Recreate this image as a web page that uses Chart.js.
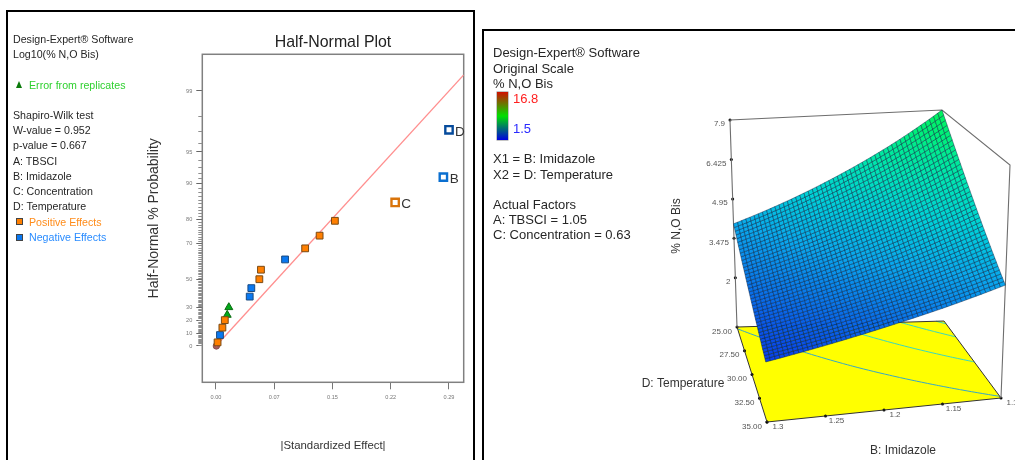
<!DOCTYPE html>
<html><head><meta charset="utf-8">
<script src="https://cdn.jsdelivr.net/npm/chart.js@4"></script>
<style>
html,body{margin:0;padding:0;background:#fff;width:1015px;height:460px;overflow:hidden;font-family:"Liberation Sans",Arial,sans-serif}
canvas{position:absolute}
.t{position:absolute;white-space:nowrap;line-height:14px;height:14px;color:#262626}
.l{font-size:11.4px;transform:scaleX(.935);transform-origin:0 50%}.r{font-size:13px}
.f{position:absolute;background:#000}
.sq{position:absolute;width:5px;height:5px;border:1px solid #444}
</style></head><body>
<div class="f" style="left:6px;top:10px;width:469px;height:2px"></div>
<div class="f" style="left:6px;top:10px;width:2px;height:450px"></div>
<div class="f" style="left:473px;top:10px;width:2px;height:450px"></div>
<div class="f" style="left:482px;top:29px;width:533px;height:2px"></div>
<div class="f" style="left:482px;top:29px;width:2px;height:431px"></div>
<canvas id="half" width="475" height="460" style="left:0;top:0;width:475px;height:460px"></canvas>
<canvas id="surf" width="532" height="460" style="left:483px;top:0;width:532px;height:460px"></canvas>
<div id="notes"></div>
<div style="position:absolute;left:497px;top:92px;width:11px;height:48px;background:linear-gradient(#d01000,#00e000 50%,#0000e0);box-shadow:0 0 0 .5px #888"></div>
<div style="position:absolute;left:16px;top:81px;width:0;height:0;border-left:3.5px solid transparent;border-right:3.5px solid transparent;border-bottom:7px solid #0a7a0a"></div>
<div class="sq" style="left:16px;top:218px;background:#ff7f00"></div>
<div class="sq" style="left:16px;top:234px;background:#0a78f0"></div>
<script>
/* ---------- left: half-normal plot ---------- */
const positiveEffect=[0.002,0.008,0.011,0.054,0.056,0.111,0.129,0.148];
const positiveProb=[2.9,14.7,20.6,50,55.9,67.6,73.5,79.4];
const negativeEffect=[0.005,0.042,0.044,0.086];
const negativeProb=[8.8,38.2,44.1,61.8];
const errorEffect=[0.014,0.016];
const errorProb=[24.6,30.4];
const originEffect=[0.0005];
const originProb=[0];
const termNames=["C","B","D"];
const termEffect=[0.223,0.283,0.290];
const termProb=[85.3,91.2,97.1];
const fitEffect=[0,0.3083];
const fitProb=[0,99.38];
const probTicks=[0,10,20,30,50,70,80,90,95,99];
const probMinor=[1,2,3,4,5,6,7,8,9,11,12,13,14,15,16,17,18,19,21,22,23,24,25,26,27,28,29,31,32,33,34,35,36,37,38,39,40,41,42,43,44,45,46,47,48,49,51,52,53,54,55,56,57,58,59,60,61,62,63,64,65,66,67,68,69,71,72,73,74,75,76,77,78,79,81,82,83,84,85,86,87,88,89,91,92,93,94,96,97,98];
const effectTicks=[0,0.0725,0.145,0.2175,0.29];
const effectLabels=["0.00","0.07","0.15","0.22","0.29"];

function erf(x){const t=1/(1+0.47047*x);
  return 1-(0.3480242*t-0.0958798*t*t+0.7478556*t*t*t)*Math.exp(-x*x);}
function halfNormalZ(p){let lo=0,hi=5;const q=p/100;
  if(q<=0)return 0;
  for(let i=0;i<60;i++){const m=(lo+hi)/2;if(erf(m/Math.SQRT2)<q)lo=m;else hi=m;}
  return (lo+hi)/2;}
const pts=(xs,ps)=>xs.map((x,i)=>({x,y:halfNormalZ(ps[i])}));

const frameAndTicks={id:'frameAndTicks',
  beforeDatasetsDraw(c){const g=c.ctx,a=c.chartArea,s=c.scales.y;g.save();
    g.strokeStyle='#808080';g.lineWidth=1.5;g.strokeRect(a.left,a.top,a.right-a.left,a.bottom-a.top);
    g.strokeStyle='#8e8e8e';g.lineWidth=1;g.beginPath();
    probMinor.forEach(p=>{const y=Math.round(s.getPixelForValue(halfNormalZ(p)))+.5;g.moveTo(a.left-4,y);g.lineTo(a.left,y);});
    g.stroke();g.restore();},
  afterDatasetsDraw(c){const g=c.ctx,i=c.data.datasets.findIndex(d=>d.label==='Terms');
    const m=c.getDatasetMeta(i);g.save();g.fillStyle='#333';g.font='13.5px "Liberation Sans"';g.textAlign='center';g.textBaseline='middle';
    m.data.forEach((e,k)=>g.fillText(termNames[k],e.x+11,e.y+2));g.restore();}};

new Chart(document.getElementById('half'),{type:'scatter',plugins:[frameAndTicks],
 data:{datasets:[
  {label:'Terms',data:pts(termEffect,termProb),pointStyle:'rect',pointRadius:5.2,pointBackgroundColor:'#fff',
   pointBorderWidth:2.4,pointBorderColor:['#d9740a','#0a6fd0','#064b9c'],order:1},
  {label:'Positive Effects',data:pts(positiveEffect,positiveProb),pointStyle:'rect',pointRadius:4.8,pointBackgroundColor:'#ff7f00',
   pointBorderColor:'#7a4a14',pointBorderWidth:1,order:2},
  {label:'Negative Effects',data:pts(negativeEffect,negativeProb),pointStyle:'rect',pointRadius:4.8,pointBackgroundColor:'#0a78f0',
   pointBorderColor:'#1a4a80',pointBorderWidth:1,order:3},
  {label:'Error from replicates',data:pts(errorEffect,errorProb),pointStyle:'triangle',pointRadius:4.6,pointBackgroundColor:'#00a818',
   pointBorderColor:'#0a6a10',pointBorderWidth:1,order:4},
  {label:'Origin',data:pts(originEffect,originProb),pointStyle:'circle',pointRadius:3.2,pointBackgroundColor:'#a85c5c',
   pointBorderColor:'#8a5050',pointBorderWidth:1,order:6},
  {label:'Fit',data:pts(fitEffect,fitProb),showLine:true,pointRadius:0,borderColor:'#ff8f8f',borderWidth:1.3,order:5}
 ]},
 options:{responsive:false,animation:false,events:[],
  layout:{padding:{left:146,right:11.3,top:0,bottom:7}},
  plugins:{legend:{display:false},tooltip:{enabled:false},
   title:{display:true,text:'Half-Normal Plot',fullSize:false,color:'#222',font:{family:'"Liberation Sans"',size:15.9,weight:'normal',lineHeight:1.2},padding:{top:33.5,bottom:1.7}}},
  scales:{
   x:{type:'linear',min:-0.017,max:0.3083,
    afterBuildTicks(s){s.ticks=effectTicks.map(v=>({value:v}));},
    afterFit(s){s.height=70.7;},
    grid:{drawOnChartArea:false,tickLength:7,tickColor:'#777',lineWidth:1},border:{display:false},
    ticks:{autoSkip:false,maxRotation:0,padding:5,color:'#777',font:{family:'"Liberation Sans"',size:5.6},callback:(v,i)=>effectLabels[i]},
    title:{display:true,text:'|Standardized Effect|',color:'#333',padding:0,font:{family:'"Liberation Sans"',size:11.4,lineHeight:1.2}}},
   y:{type:'linear',min:-0.367,max:2.947,
    afterBuildTicks(s){s.ticks=probTicks.map(p=>({value:halfNormalZ(p)}));},
    afterFit(s){s.width=56.3;},
    grid:{drawOnChartArea:false,tickLength:6,tickColor:'#666',lineWidth:1},border:{display:false},
    ticks:{autoSkip:false,padding:4,color:'#777',font:{family:'"Liberation Sans"',size:5.6},callback:(v,i)=>String(probTicks[i])},
    title:{display:true,text:'Half-Normal % Probability',color:'#333',padding:0,font:{family:'"Liberation Sans"',size:14,lineHeight:1.2}}}
  }}});

/* ---------- right: response surface ---------- */
const imidazole=[1.3,1.25,1.2,1.15,1.1];
const temperature=[35,32.5,30,27.5,25];
const nOBis=[
 [2.12,2.47,2.88,3.35,3.91],
 [2.49,2.91,3.40,3.98,4.66],
 [2.92,3.43,4.03,4.73,5.56],
 [3.42,4.04,4.76,5.62,6.63],
 [4.02,4.76,5.64,6.67,7.90]];
const zTicks=[2,3.475,4.95,6.425,7.9];
const zLabels=["2","3.475","4.95","6.425","7.9"];
const tempTicks=[25,27.5,30,32.5,35];
const tempLabels=["25.00","27.50","30.00","32.50","35.00"];
const imidTicks=[1.3,1.25,1.2,1.15,1.1];
const imidLabels=["1.3","1.25","1.2","1.15","1.1"];
const contourLevels=[3.97,5.44,6.84,7.7];

/* view rig: where the eight box corners sit on the picture */
const RIG={zFloor:0.16,zTop:7.9,
 floor:{fl:[767,422],bl:[737,327],fr:[1001,398],br:[944,321]},
 top:{fl:[762,185],bl:[730,120],fr:[1010,165],br:[942,110]}};
const MESH_B=50,MESH_D=40;
const colorStops=[[2,[10,56,232]],[3,[10,112,232]],[4,[10,168,236]],[5,[0,208,216]],[6,[0,228,180]],[7,[0,238,132]],[8,[0,244,84]]];

const uOf=b=>(1.3-b)/0.2, vOf=d=>(35-d)/10, hOf=z=>(z-RIG.zFloor)/(RIG.zTop-RIG.zFloor);
function project(u,v,h){const mix=(k,i)=>{const c=RIG[k];
   return (1-u)*((1-v)*c.fl[i]+v*c.bl[i])+u*((1-v)*c.fr[i]+v*c.br[i]);};
  return {x:mix('floor',0)*(1-h)+mix('top',0)*h, y:mix('floor',1)*(1-h)+mix('top',1)*h};}
function zAt(u,v){const n=imidazole.length-1,m=temperature.length-1;
  const a=Math.min(Math.floor(u*n),n-1),b=Math.min(Math.floor(v*m),m-1),s=u*n-a,t=v*m-b;
  const L=(r,c)=>Math.log(nOBis[r][c]);
  return Math.exp((1-t)*((1-s)*L(b,a)+s*L(b,a+1))+t*((1-s)*L(b+1,a)+s*L(b+1,a+1)));}
function colorOf(z){let i=0;while(i<colorStops.length-2&&z>colorStops[i+1][0])i++;
  const [z0,c0]=colorStops[i],[z1,c1]=colorStops[i+1],t=Math.max(0,Math.min(1,(z-z0)/(z1-z0)));
  return 'rgb('+c0.map((c,k)=>Math.round(c+(c1[k]-c)*t)).join(',')+')';}

const surfacePlugin={id:'surfacePlugin',
 beforeDatasetsDraw(c){const g=c.ctx,X=c.scales.x,Y=c.scales.y;
  const P=(u,v,h)=>{const p=project(u,v,h);return [X.getPixelForValue(p.x),Y.getPixelForValue(p.y)];};
  g.save();g.fillStyle='#ffff00';g.beginPath();
  [[0,1],[0,0],[1,0],[1,1]].forEach(q=>g.lineTo(...P(q[0],q[1],0)));g.closePath();g.fill();
  g.lineWidth=1;
  contourLevels.forEach(L=>{g.strokeStyle=L<4.5?'#35a8c8':'#38d8c0';g.beginPath();
   for(let i=0;i<MESH_B;i++)for(let j=0;j<MESH_D;j++){
    const u0=i/MESH_B,u1=(i+1)/MESH_B,v0=j/MESH_D,v1=(j+1)/MESH_D;
    const q=[[u0,v0],[u1,v0],[u1,v1],[u0,v1]],hits=[];
    for(let k=0;k<4;k++){const a=q[k],b=q[(k+1)%4],za=zAt(a[0],a[1]),zb=zAt(b[0],b[1]);
     if((za-L)*(zb-L)<0){const t=(L-za)/(zb-za);hits.push(P(a[0]+(b[0]-a[0])*t,a[1]+(b[1]-a[1])*t,0));}}
    if(hits.length>=2){g.moveTo(...hits[0]);g.lineTo(...hits[1]);}
   }
   g.stroke();});
  g.restore();},
 afterDatasetsDraw(c){const g=c.ctx,X=c.scales.x,Y=c.scales.y;
  const P=(u,v)=>{const p=project(u,v,hOf(zAt(u,v)));return [X.getPixelForValue(p.x),Y.getPixelForValue(p.y)];};
  g.save();
  for(let i=0;i<MESH_B;i++)for(let j=0;j<MESH_D;j++){
    const u0=i/MESH_B,u1=(i+1)/MESH_B,v0=j/MESH_D,v1=(j+1)/MESH_D;
    g.beginPath();g.moveTo(...P(u0,v0));g.lineTo(...P(u1,v0));g.lineTo(...P(u1,v1));g.lineTo(...P(u0,v1));g.closePath();
    const col=colorOf(zAt((u0+u1)/2,(v0+v1)/2));
    g.fillStyle=col;g.fill();
    g.strokeStyle='rgba(0,26,60,.66)';g.lineWidth=.65;g.stroke();
  }
  /* axis numbers */
  g.fillStyle='#555';g.font='8px "Liberation Sans"';g.textBaseline='middle';
  const at=p=>[X.getPixelForValue(p.x),Y.getPixelForValue(p.y)];
  g.textAlign='right';
  zTicks.forEach((z,k)=>{const a=at(project(0,1,hOf(z)));g.fillText(zLabels[k],a[0]-5,a[1]+4);});
  tempTicks.forEach((d,k)=>{const a=at(project(0,vOf(d),0));g.fillText(tempLabels[k],a[0]-5,a[1]+4.5);});
  g.textAlign='center';
  imidTicks.forEach((b,k)=>{const a=at(project(uOf(b),0,0));g.fillText(imidLabels[k],a[0]+11,a[1]+5);});
  /* axis titles */
  g.fillStyle='#333';g.font='12px "Liberation Sans"';
  g.fillText('B: Imidazole',X.getPixelForValue(903),Y.getPixelForValue(451));
  g.fillText('D: Temperature',X.getPixelForValue(683),Y.getPixelForValue(384));
  g.translate(X.getPixelForValue(677),Y.getPixelForValue(226));g.rotate(-Math.PI/2);g.fillText('% N,O Bis',0,0);
  g.restore();}};

const edge=(corners)=>corners.map(q=>project(q[0],q[1],q[2]));
const tickPts=[
 ...zTicks.map(z=>project(0,1,hOf(z))),
 ...tempTicks.map(d=>project(0,vOf(d),0)),
 ...imidTicks.map(b=>project(uOf(b),0,0))];
new Chart(document.getElementById('surf'),{type:'scatter',plugins:[surfacePlugin],
 data:{datasets:[
  {label:'Box',data:edge([[0,1,0],[0,1,1],[1,1,1],[1,0,1],[1,0,0]]),showLine:true,pointRadius:0,borderColor:'#6e6e6e',borderWidth:1.1},
  {label:'Floor',data:edge([[0,1,0],[0,0,0],[1,0,0],[1,1,0],[0,1,0]]),showLine:true,pointRadius:0,borderColor:'#333',borderWidth:1},
  {label:'Ticks',data:tickPts,pointRadius:1.5,pointBackgroundColor:'#000',pointBorderWidth:0}
 ]},
 options:{responsive:false,animation:false,events:[],layout:{padding:0,autoPadding:false},
  plugins:{legend:{display:false},tooltip:{enabled:false}},
  scales:{x:{type:'linear',min:483,max:1015,display:false},y:{type:'linear',min:0,max:460,reverse:true,display:false}}}});

/* ---------- panel notes ---------- */
const leftNotes=[[13,39,'Design-Expert® Software'],[13,54,'Log10(% N,O Bis)'],[29,85,'Error from replicates','#2fd02f'],
 [13,115,'Shapiro-Wilk test'],[13,130,'W-value = 0.952'],[13,145,'p-value = 0.667'],[13,161,'A: TBSCI'],[13,176,'B: Imidazole'],
 [13,191,'C: Concentration'],[13,206,'D: Temperature'],[29,222,'Positive Effects','#ff8c1a'],[29,237,'Negative Effects','#2a8cff']];
const rightNotes=[[493,53,'Design-Expert® Software'],[493,68.5,'Original Scale'],[493,84,'% N,O Bis'],
 [513,99,'16.8','#ff2020'],[513,129,'1.5','#2a2aff'],[493,159,'X1 = B: Imidazole'],[493,175,'X2 = D: Temperature'],
 [493,205,'Actual Factors'],[493,220,'A: TBSCI = 1.05'],[493,235,'C: Concentration = 0.63']];
const host=document.getElementById('notes');
[[leftNotes,'l'],[rightNotes,'r']].forEach(([list,cls])=>list.forEach(n=>{const d=document.createElement('div');
  d.className='t '+cls;d.textContent=n[2];d.style.left=n[0]+'px';d.style.top=(n[1]-7)+'px';if(n[3])d.style.color=n[3];host.appendChild(d);}));
</script>
</body></html>
